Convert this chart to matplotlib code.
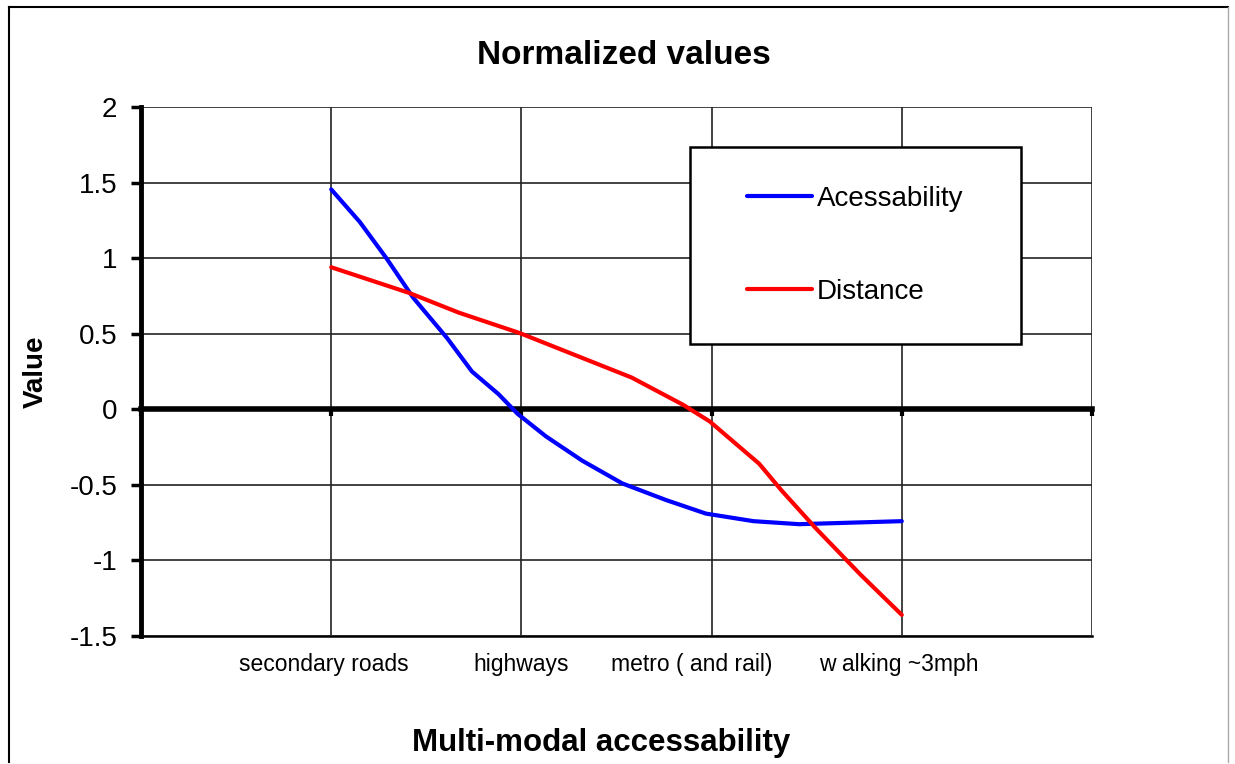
import matplotlib.pyplot as plt
from matplotlib.lines import Line2D
from matplotlib.transforms import ScaledTranslation

plt.rcParams['font.family'] = ['Liberation Sans', 'DejaVu Sans']

categories = ['secondary roads', 'highways', 'metro ( and rail)', 'w alking ~3mph']
cat_pos = [1, 2, 3, 4]

# curve points (x in category units)
acc_x = [1.0, 1.15, 1.29, 1.43, 1.61, 1.74, 1.88, 1.98, 2.13, 2.32, 2.53, 2.76, 2.97, 3.22, 3.46, 3.73, 4.0]
acc_y = [1.455, 1.24, 1.0, 0.74, 0.47, 0.25, 0.10, -0.03, -0.18, -0.34, -0.49, -0.60, -0.69, -0.74, -0.76, -0.75, -0.74]
dist_x = [1.0, 1.41, 1.67, 1.99, 2.24, 2.52, 2.58, 2.85, 2.99, 3.25, 3.37, 3.55, 3.78, 4.0]
dist_y = [0.94, 0.77, 0.64, 0.505, 0.38, 0.24, 0.21, 0.03, -0.08, -0.36, -0.54, -0.79, -1.09, -1.36]

yticks = [-1.5, -1, -0.5, 0, 0.5, 1, 1.5, 2]
ytick_labels = ['-1.5', '-1', '-0.5', '0', '0.5', '1', '1.5', '2']

fig = plt.figure(figsize=(12.35, 7.64), dpi=100)
ax = fig.add_axes([0.1142, 0.1675, 0.770, 0.6924])

ax.plot(acc_x, acc_y, color='#0000ff', lw=3, label='Acessability', zorder=4,
        solid_joinstyle='round', solid_capstyle='round')
ax.plot(dist_x, dist_y, color='#ff0000', lw=3, label='Distance', zorder=4,
        solid_joinstyle='round', solid_capstyle='round')

ax.set_xlim(0, 5)
ax.set_ylim(-1.5, 2)
ax.set_yticks(yticks)
ax.set_yticklabels(ytick_labels, fontsize=20)
ax.set_xticks([0, 1, 2, 3, 4, 5])
ax.tick_params(axis='x', labelbottom=False, direction='out', length=5, width=3, color='black')
ax.tick_params(axis='y', direction='out', length=7, width=2.5, pad=10)

ax.grid(True, color='#222222', lw=1.2)
ax.set_axisbelow(True)
for s in ['top', 'right']:
    ax.spines[s].set_visible(False)
ax.spines['left'].set_linewidth(3.5)
ax.spines['bottom'].set_position(('data', 0))
ax.spines['bottom'].set_linewidth(4)
ax.spines['bottom'].set_zorder(3)

sec = ax.secondary_xaxis('bottom')
sec.set_xticks(cat_pos)
sec.set_xticklabels(categories, fontsize=16.5)
sec.tick_params(length=0, pad=12)
sec.spines['bottom'].set_linewidth(1.8)
# Excel nudges the labels a little to the left
shifts = [-0.07, 0.0, -0.2, -0.03]
for lab, dx in zip(sec.get_xticklabels(), shifts):
    lab.set_transform(lab.get_transform() + ScaledTranslation(dx, 0, fig.dpi_scale_trans))

ax.set_ylabel('Value', fontsize=20, fontweight='bold', va='center')
ax.yaxis.set_label_coords(-0.111, 0.5)
fig.text(0.487, 0.0275, 'Multi-modal accessability', fontsize=22.5, fontweight='bold',
         ha='center', va='center')
fig.text(0.505, 0.928, 'Normalized values', fontsize=24, fontweight='bold',
         ha='center', va='center')

# legend box
box = plt.Rectangle((0.5587, 0.5497), 0.268, 0.2579, transform=fig.transFigure,
                    facecolor='white', edgecolor='black', lw=1.8, zorder=3)
fig.add_artist(box)
h, l = ax.get_legend_handles_labels()
fig.legend(h, l, loc='center left', bbox_to_anchor=(0.6049, 0.6787), frameon=False,
           fontsize=20, handlelength=2.35, handletextpad=0.15, labelspacing=2.4,
           borderpad=0, borderaxespad=0)

# outer chart border
fig.add_artist(Line2D([0.0073, 0.0073], [0.003, 0.9908], transform=fig.transFigure, color='black', lw=1.5))
fig.add_artist(Line2D([0.0073, 0.9943], [0.9908, 0.9908], transform=fig.transFigure, color='black', lw=1.5))
fig.add_artist(Line2D([0.9943, 0.9943], [0.003, 0.9908], transform=fig.transFigure, color='#aaaaaa', lw=1))

fig.savefig('out.png', dpi=100)
